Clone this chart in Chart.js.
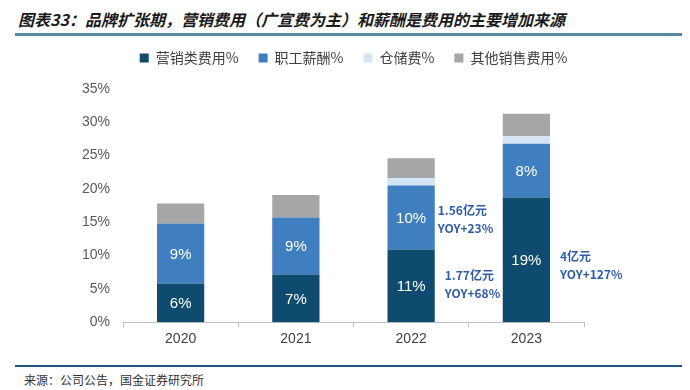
<!DOCTYPE html>
<html>
<head>
<meta charset="utf-8">
<script src="https://cdn.jsdelivr.net/npm/chart.js@4.4.1/dist/chart.umd.min.js"></script>
<style>
  body { margin: 0; width: 690px; height: 390px; background: #fff; position: relative; overflow: hidden; }
  #title { position: absolute; left: 18px; top: 7px; font: italic bold 16px "Noto Sans CJK SC", sans-serif; color: #1a1a1a; white-space: nowrap; }
  #titleLine { position: absolute; left: 15px; top: 33px; width: 667px; height: 3px; background: #5b86a2; }
  #footLine { position: absolute; left: 15px; top: 365px; width: 667px; height: 2px; background: #1f5584; }
  #source { position: absolute; left: 24px; top: 371px; font: 12px "Noto Sans CJK SC", sans-serif; color: #333; white-space: nowrap; }
  #wrap { position: absolute; left: 0; top: 29px; width: 690px; height: 323px; }
</style>
</head>
<body>
<div id="title">图表33：品牌扩张期，营销费用（广宣费为主）和薪酬是费用的主要增加来源</div>
<div id="titleLine"></div>
<div id="wrap"><canvas id="chart"></canvas></div>
<div id="footLine"></div>
<div id="source">来源：公司公告，国金证券研究所</div>
<script>
// chart values (% of revenue)
const years = ["2020", "2021", "2022", "2023"];
const marketing = [5.8, 7.15, 10.9, 18.7];
const salary = [9.0, 8.55, 9.6, 8.1];
const storage = [0, 0, 1.15, 1.1];
const other = [3.0, 3.4, 2.95, 3.4];

const marketingLabels = ["6%", "7%", "11%", "19%"];
const salaryLabels = ["9%", "9%", "10%", "8%"];

// side notes: category, y value, text lines
const noteYears = ["2022", "2022", "2023"];
const noteValues = [15.4, 5.7, 8.5];
const noteLines = [["1.56亿元", "YOY+23%"], ["1.77亿元", "YOY+68%"], ["4亿元", "YOY+127%"]];
const noteOffsets = [3, 10, 10];

const colors = ["#0f4a6f", "#3f7fbf", "#d3e4f3", "#a6a6a6"];

// white % labels inside the two lower segments
const barLabels = {
    id: "barLabels",
    afterDatasetsDraw(chart) {
        const ctx = chart.ctx;
        ctx.save();
        ctx.fillStyle = "#ffffff";
        ctx.font = "15px 'Liberation Sans', Arial, sans-serif";
        ctx.textAlign = "center";
        ctx.textBaseline = "middle";
        [marketingLabels, salaryLabels].forEach((labels, di) => {
            chart.getDatasetMeta(di).data.forEach((bar, i) => {
                ctx.fillText(labels[i], bar.x, (bar.y + bar.base) / 2 + 1);
            });
        });
        ctx.restore();
    }
};

const sideNotes = {
    id: "sideNotes",
    afterDatasetsDraw(chart) {
        const ctx = chart.ctx;
        const ys = chart.scales.y;
        const meta = chart.getDatasetMeta(0);
        ctx.save();
        ctx.fillStyle = "#2f5ca8";
        ctx.font = "bold 12px 'Noto Sans CJK SC', sans-serif";
        ctx.textAlign = "left";
        ctx.textBaseline = "middle";
        noteYears.forEach((yr, i) => {
            const bar = meta.data[years.indexOf(yr)];
            const x = bar.x + bar.width / 2 + noteOffsets[i];
            const y = ys.getPixelForValue(noteValues[i]);
            ctx.fillText(noteLines[i][0], x, y - 9);
            ctx.fillText(noteLines[i][1], x, y + 9);
        });
        ctx.restore();
    }
};

// extra room under the legend, and center it over the plot area
const legendGap = {
    id: "legendGap",
    beforeInit(chart) {
        const fit = chart.legend.fit;
        chart.legend.fit = function () {
            fit.bind(chart.legend)();
            this.height += 14;
        };
    },
    afterLayout(chart) {
        const lg = chart.legend;
        const shift = (chart.chartArea.left + chart.chartArea.right) / 2 - (lg.left + lg.right) / 2;
        lg.left += shift;
        lg.right += shift;
    }
};

new Chart(document.getElementById("chart"), {
    type: "bar",
    data: {
        labels: years,
        datasets: [
            { label: "营销类费用%", data: marketing, backgroundColor: colors[0] },
            { label: "职工薪酬%", data: salary, backgroundColor: colors[1] },
            { label: "仓储费%", data: storage, backgroundColor: colors[2] },
            { label: "其他销售费用%", data: other, backgroundColor: colors[3] }
        ]
    },
    options: {
        responsive: true,
        maintainAspectRatio: false,
        animation: false,
        datasets: { bar: { categoryPercentage: 1, barPercentage: 0.41 } },
        layout: { padding: { left: 10, right: 106, top: 2, bottom: 0 } },
        plugins: {
            legend: {
                position: "top",
                labels: {
                    boxWidth: 9,
                    boxHeight: 9,
                    padding: 20,
                    color: "#404040",
                    font: { family: "'Noto Sans CJK SC', sans-serif", size: 14 }
                }
            },
            tooltip: { enabled: false }
        },
        scales: {
            x: {
                stacked: true,
                grid: { display: true, drawOnChartArea: false, offset: true, tickLength: 5, color: "#bfbfbf" },
                border: { color: "#bfbfbf" },
                ticks: { color: "#404040", font: { family: "'Liberation Sans', Arial", size: 14 }, padding: 4 }
            },
            y: {
                stacked: true,
                min: 0,
                max: 35,
                afterFit(scale) { scale.width = 113; },
                grid: { display: false, drawTicks: false },
                border: { display: false },
                ticks: {
                    stepSize: 5,
                    padding: 13,
                    color: "#595959",
                    font: { family: "'Liberation Sans', Arial", size: 14 },
                    callback: v => v + "%"
                }
            }
        }
    },
    plugins: [barLabels, sideNotes, legendGap]
});
</script>
</body>
</html>
